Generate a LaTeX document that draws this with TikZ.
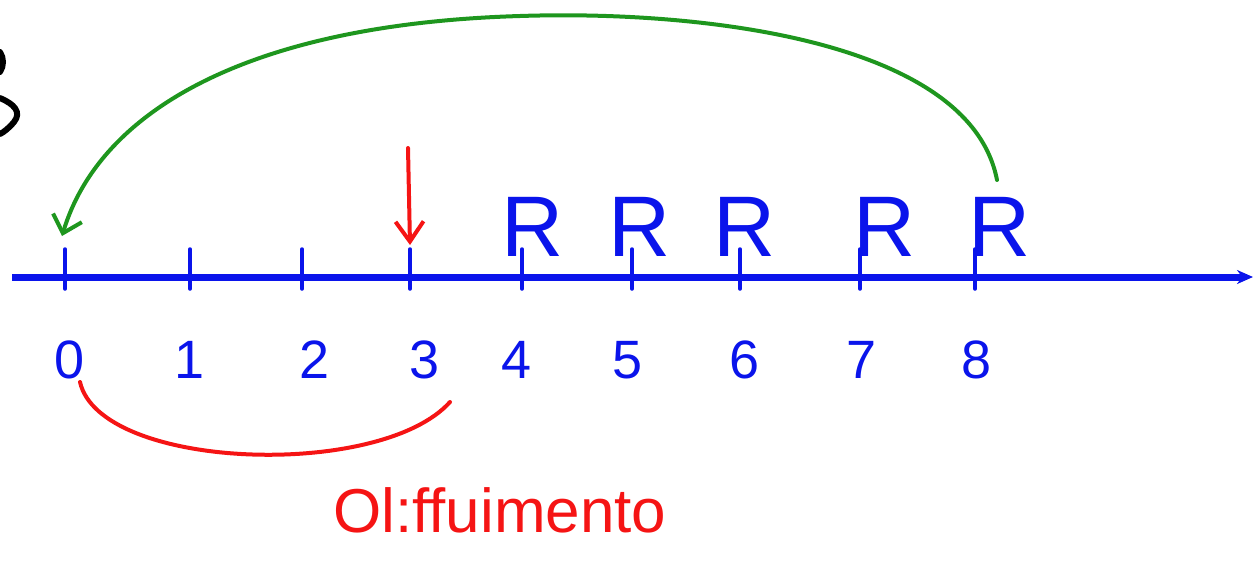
\documentclass[tikz,border=0pt]{standalone}
\usepackage{fontspec}
\setmainfont{Liberation Sans}
\usetikzlibrary{arrows.meta}
\definecolor{hblue}{RGB}{10,20,235}
\definecolor{hred}{RGB}{245,20,20}
\definecolor{hgreen}{RGB}{30,150,30}
\tikzset{
  axis/.style={hblue,line width=7pt,-{Stealth[length=16pt,width=14pt]}},
  tick/.style={hblue,line width=3.5pt,line cap=round},
  numlab/.style={hblue,font=\fontsize{54}{58}\selectfont,inner sep=0pt},
  rlab/.style={hblue,font=\fontsize{86}{90}\selectfont,inner sep=0pt},
  redpen/.style={hred,line width=4pt,line cap=round},
  greenpen/.style={hgreen,line width=4pt,line cap=round},
}
\begin{document}
\begin{tikzpicture}[x=1pt,y=-1pt]
\useasboundingbox (0,0) rectangle (1255,574);
% black partial glyph at top-left
\draw[black,line width=6pt,line cap=round] (0,98) .. controls (14,104) and (22,112) .. (14,122) .. controls (9,128) and (4,132) .. (0,134);
\draw[black,line width=6pt,line cap=round] (0,52) .. controls (4,58) and (4,66) .. (0,72);
% axis
\coordinate (a0) at (12,277);
\coordinate (a1) at (1253,277);
\draw[axis] (a0) -- (a1);
% ticks and labels
\foreach \n/\tx/\lx in {0/65/70,1/190/190,2/302/315,3/410/425,4/522/517,5/632/628,6/740/745,7/860/862,8/975/977}{
  \coordinate (t\n) at (\tx,277);
  \draw[tick] ([yshift=-12pt]t\n) -- ([yshift=28pt]t\n);
  \node[numlab] (n\n) at (\lx,360) {\n};
}
% R labels
\foreach \i/\x in {4/533,5/640,6/745,7/885,8/1000}{
  \node[rlab] (r\i) at (\x,227) {R};
}
% red arrow above 3
\coordinate (ra0) at (408,148);
\coordinate (ra1) at (410,245);
\draw[redpen,-{Straight Barb[length=20pt,width=28pt]}] (ra0) -- (ra1);
% green arc from 8 back to 0
\coordinate (g0) at (997,180);
\coordinate (g1) at (62,236);
\draw[greenpen,-{Straight Barb[length=16pt,width=30pt]}] (g0) .. controls (970,40) and (700,10) .. (520,16)
  .. controls (250,24) and (100,110) .. (g1);
% red arc below 0..3
\coordinate (b0) at (80,382);
\coordinate (b1) at (450,402);
\draw[redpen] (b0) .. controls (100,470) and (380,480) .. (b1);
% red text
\node[hred,font=\fontsize{62}{66}\selectfont,inner sep=0pt,anchor=west] (txt) at (333,510) {Ol:ffuimento};
\end{tikzpicture}
\end{document}
